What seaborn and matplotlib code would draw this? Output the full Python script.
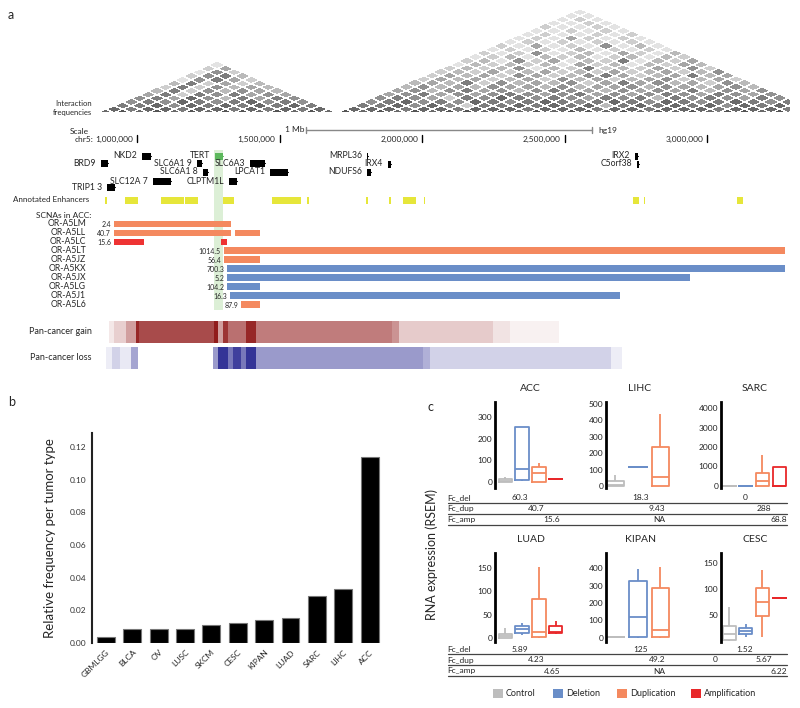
import numpy as np
import pandas as pd
import matplotlib
matplotlib.use('Agg')
import matplotlib.pyplot as plt
import seaborn as sns
from matplotlib.patches import Rectangle
from matplotlib.colors import LinearSegmentedColormap

sns.set_style('white')
plt.rcParams['font.family'] = ['Lato', 'DejaVu Sans']

# ---------------- data: panel a (positions in Mb on chr5) ----------------
# Hi-C contact levels (0-9), one string per distance from the diagonal
hic_left_span = (0.860, 1.701)
hic_left = ["78787878878787", "7677677676767", "667576767676", "56576567565",
            "5647536465", "462656454", "36253543", "2625343", "362423", "15642",
            "2563", "152", "24", "1"]
hic_right_span = (1.701, 3.405)
hic_right = ["8787878878787887878787887878", "777677677767776776777677767",
             "66757526676767367676757676", "5675657656765676576567656",
             "565426576565465636565465", "45645456545645456546545",
             "4535645356543545463545", "353435443534453543453",
             "34362534352464534253", "2434234253423452342",
             "243425423564234634", "23242342324234235", "2323513262324252",
             "132323142313243", "23152413261324", "1231323123132",
             "212512314213", "12121312121", "2141215131", "121212121",
             "12142121", "1211212", "112121", "21121", "1121", "121", "11", "1"]

coord_ticks = [1.0, 1.5, 2.0, 2.5, 3.0]
coord_labels = ['1,000,000', '1,500,000', '2,000,000', '2,500,000', '3,000,000']

gene_names = ['BRD9', 'TRIP1 3', 'NKD2', 'SLC12A 7', 'SLC6A1 9', 'SLC6A1 8', 'TERT',
              'CLPTM1L', 'SLC6A3', 'LPCAT1', 'MRPL36', 'NDUFS6', 'IRX4', 'IRX2', 'C5orf38']
gene_start = [0.874, 0.895, 1.018, 1.056, 1.210, 1.231, 1.274, 1.323, 1.396, 1.466,
              1.806, 1.806, 1.880, 2.746, 2.753]
gene_end = [0.898, 0.923, 1.049, 1.119, 1.228, 1.249, 1.302, 1.351, 1.449, 1.530,
            1.810, 1.821, 1.891, 2.757, 2.760]
gene_row = [163, 187, 156, 181, 163, 172, 156, 181, 163, 172, 156, 172, 164, 156, 164]

enh_start = [0.888, 0.958, 1.084, 1.168, 1.302, 1.473, 1.596, 1.803, 1.884, 1.933,
             2.006, 2.739, 2.778, 3.104]
enh_end = [0.895, 1.004, 1.165, 1.214, 1.340, 1.575, 1.603, 1.810, 1.891, 1.978,
           2.010, 2.760, 2.781, 3.125]

tert_band = (1.270, 1.301)

scna_sample = ['OR-A5LM', 'OR-A5LL', 'OR-A5LC', 'OR-A5LT', 'OR-A5JZ', 'OR-A5KX',
               'OR-A5JX', 'OR-A5LG', 'OR-A5J1', 'OR-A5L6']
scna_value = ['2.4', '40.7', '15.6', '1014.5', '56.4', '700.3', '5.2', '104.2', '16.3', '87.9']
seg_sample = ['OR-A5LM', 'OR-A5LL', 'OR-A5LL', 'OR-A5LC', 'OR-A5LC', 'OR-A5LT', 'OR-A5JZ',
              'OR-A5KX', 'OR-A5JX', 'OR-A5LG', 'OR-A5J1', 'OR-A5L6']
seg_start = [0.919, 0.919, 1.344, 0.919, 1.295, 1.305, 1.305, 1.316, 1.316, 1.316, 1.326, 1.365]
seg_end = [1.330, 1.330, 1.431, 1.025, 1.316, 3.272, 1.431, 3.272, 2.939, 1.431, 2.694, 1.431]
seg_type = ['dup', 'dup', 'dup', 'amp', 'amp', 'dup', 'dup', 'del', 'del', 'del', 'del', 'dup']

gain_edges = [0.902, 0.919, 0.961, 0.997, 1.007, 1.270, 1.284, 1.302, 1.319, 1.382,
              1.417, 1.894, 1.919, 2.248, 2.308, 2.480]
gain_level = [0.1, 0.2, 0.4, 0.9, 0.75, 0.95, 0.4, 0.85, 0.6, 0.9, 0.55, 0.45, 0.22, 0.12, 0.06]
loss_edges = [0.891, 0.912, 0.940, 0.979, 1.004, 1.267, 1.284, 1.319, 1.337, 1.365,
              1.382, 1.417, 2.003, 2.027, 2.662, 2.701]
loss_level = [0.08, 0.2, 0.1, 0.4, 0, 0.45, 0.9, 0.6, 0.85, 0.6, 0.9, 0.45, 0.35, 0.2, 0.08]

# ---------------- data: panel b ----------------
tumors = ['GBMLGG', 'BLCA', 'OV', 'LUSC', 'SKCM', 'CESC', 'KIPAN', 'LUAD', 'SARC', 'LIHC', 'ACC']
rel_freq = [0.0035, 0.0085, 0.0085, 0.0085, 0.011, 0.012, 0.014, 0.0155, 0.0285, 0.033, 0.114]

# ---------------- data: panel c (min, q1, median, q3, max per group) ----------------
groups = ['Control', 'Deletion', 'Duplication', 'Amplification']
expr = {
    'ACC': {'Control': [0, 1, 5, 12, 22], 'Deletion': [6, 9, 60, 255, 255],
            'Duplication': [1, 2, 40, 71, 86], 'Amplification': [14, 14, 14, 14, 14]},
    'LIHC': {'Control': [0, 2, 8, 30, 67], 'Deletion': [118, 118, 118, 118, 118],
             'Duplication': [0, 2, 57, 240, 440]},
    'SARC': {'Control': [0, 5, 10, 15, 20], 'Deletion': [0, 5, 10, 15, 20],
             'Duplication': [0, 20, 270, 650, 1600], 'Amplification': [0, 10, 20, 960, 960]},
    'LUAD': {'Control': [0, 0, 3, 8, 20], 'Deletion': [6, 11, 18, 25, 32],
             'Duplication': [0, 1, 13, 84, 152], 'Amplification': [9, 10, 13, 25, 36]},
    'KIPAN': {'Control': [0, 1, 2, 3, 4], 'Deletion': [0, 6, 117, 328, 394],
              'Duplication': [0, 2, 43, 285, 409]},
    'CESC': {'Control': [0, 3, 13, 29, 66], 'Deletion': [8, 13, 20, 26, 32],
             'Duplication': [8, 48, 75, 101, 136], 'Amplification': [83, 83, 83, 83, 83]},
}
fc_rows = ['Fc_del', 'Fc_dup', 'Fc_amp']
fc_top = [['60.3', '18.3', '0'], ['40.7', '9.43', '288'], ['15.6', 'NA', '68.8']]
fc_bottom = [['5.89', '125', '1.52'], ['4.23', '49.2', '5.67'], ['4.65', 'NA', '6.22']]

box_colors = {'Control': '#bdbdbd', 'Deletion': '#6a8ec8',
              'Duplication': '#f4895f', 'Amplification': '#e8282a'}
seg_colors = {'dup': '#f4895f', 'del': '#6a8ec8', 'amp': '#ee3333'}

W, H = 800, 708
fig = plt.figure(figsize=(W / 100, H / 100), dpi=100)


def px_axes(x0, y0, x1, y1):
    return fig.add_axes([x0 / W, 1 - y1 / H, (x1 - x0) / W, (y1 - y0) / H])


# ================= panel a =================
MB_PX = 285.2
axa = px_axes(0, 0, 800, 385)
X0 = 1 - 137 / MB_PX
axa.set_xlim(X0, X0 + 800 / MB_PX)
axa.set_ylim(385, 0)
axa.axis('off')


def mb(p):
    return (p - 137) / MB_PX + 1


hic_cmap = LinearSegmentedColormap.from_list('hic', ['#f7f7f7', '#4a4a4a'])


def draw_hic(span, rows, clip=None):
    n = len(rows)
    M = np.full((n, n), np.nan)
    for d, s in enumerate(rows):
        for i, ch in enumerate(s[:n - d]):
            M[i, i + d] = int(ch)
    e = np.linspace(span[0], span[1], n + 1)
    A, B = np.meshgrid(e, e, indexing='ij')
    X = (A + B) / 2
    Y = 113 - 61.3 * np.clip(B - A, 0, None)
    mesh = axa.pcolormesh(X, Y, np.ma.masked_invalid(M), cmap=hic_cmap, vmin=0, vmax=8.5,
                          edgecolors='white', linewidth=0.15)
    if clip is not None:
        mesh.set_clip_path(Rectangle((X0, 0), clip - X0, 120, transform=axa.transData))


draw_hic(hic_left_span, hic_left)
draw_hic(hic_right_span, hic_right, clip=3.290)
axa.text(mb(92), 103, 'Interaction', ha='right', va='center', fontsize=5.5)
axa.text(mb(92), 113, 'frequencies', ha='right', va='center', fontsize=5.5)

# scale / coordinates
axa.text(mb(89), 131, 'Scale', ha='right', va='center', fontsize=6)
axa.text(mb(93), 139.5, 'chr5:', ha='right', va='center', fontsize=6)
for t, lab in zip(coord_ticks, coord_labels):
    axa.plot([t, t], [135, 142.5], color='black', lw=1)
    axa.text(t - 4 / MB_PX, 139.5, lab, ha='right', va='center', fontsize=6)
axa.plot([mb(306), mb(592)], [130, 130], color='#888888', lw=1)
axa.plot([mb(306), mb(306)], [127, 133], color='#888888', lw=1)
axa.plot([mb(592), mb(592)], [127, 133], color='#888888', lw=1)
axa.text(mb(304), 130, '1 Mb', ha='right', va='center', fontsize=6)
axa.text(mb(598), 131, 'hg19', ha='left', va='center', fontsize=6)

# TERT highlight band
axa.add_patch(Rectangle((tert_band[0], 150), tert_band[1] - tert_band[0], 160,
                        color='#dcefd6', zorder=0, lw=0))

# genes
for name, s, e, y in zip(gene_names, gene_start, gene_end, gene_row):
    col = '#5cb85c' if name == 'TERT' else 'black'
    axa.plot([s, e], [y, y], color=col, lw=0.8)
    axa.add_patch(Rectangle((s, y - 3.5), e - s, 7, color=col, lw=0))
    axa.text(s - 5 / MB_PX, y, name, ha='right', va='center', fontsize=6.2)

# enhancers
axa.text(mb(89), 200, 'Annotated Enhancers', ha='right', va='center', fontsize=5.8)
for s, e in zip(enh_start, enh_end):
    axa.add_patch(Rectangle((s, 196.5), max(e - s, 0.004), 7, color='#e6e63a', lw=0))

# SCNAs in ACC
axa.text(mb(91), 216, 'SCNAs in ACC:', ha='right', va='center', fontsize=6)
row_y = {s: 224 + 8.95 * i for i, s in enumerate(scna_sample)}
first_start = {}
for smp, s, e, t in zip(seg_sample, seg_start, seg_end, seg_type):
    axa.barh(row_y[smp], e - s, left=s, height=6.8, color=seg_colors[t], lw=0)
    first_start[smp] = min(first_start.get(smp, 9), s)
for smp, val in zip(scna_sample, scna_value):
    axa.text(mb(86), row_y[smp], smp, ha='right', va='center', fontsize=6.2)
    axa.text(first_start[smp] - 3 / MB_PX, row_y[smp] + 0.5, val, ha='right',
             va='center', fontsize=5)

# pan-cancer gain / loss
gain_cmap = LinearSegmentedColormap.from_list('gain', ['#ffffff', '#8c1010'])
loss_cmap = LinearSegmentedColormap.from_list('loss', ['#ffffff', '#1e1e8c'])
axa.pcolormesh(gain_edges, [321, 343], np.ma.masked_equal(np.array([gain_level]), 0),
               cmap=gain_cmap, vmin=0, vmax=1)
axa.pcolormesh(loss_edges, [347, 369], np.ma.masked_equal(np.array([loss_level]), 0),
               cmap=loss_cmap, vmin=0, vmax=1)
axa.text(mb(92), 332, 'Pan-cancer gain', ha='right', va='center', fontsize=6.5)
axa.text(mb(92), 358, 'Pan-cancer loss', ha='right', va='center', fontsize=6.5)

# ================= panel b =================
axb = px_axes(92, 433, 388, 643)
df_b = pd.DataFrame({'tumor': tumors, 'freq': rel_freq})
sns.barplot(data=df_b, x='tumor', y='freq', color='black', width=0.68,
            edgecolor='#777777', linewidth=0.8, ax=axb)
axb.set_xlim(-0.53, 10.7)
axb.set_ylim(0, 0.1287)
axb.set_yticks(np.arange(0, 0.13, 0.02))
axb.set_yticklabels([f'{v:.2f}' for v in np.arange(0, 0.13, 0.02)], fontsize=6, color='#333333')
axb.set_xticks(range(len(tumors)))
axb.set_xticklabels(tumors, rotation=45, ha='right', rotation_mode='anchor', fontsize=6)
axb.tick_params(length=0, pad=4)
axb.set_xlabel('')
axb.set_ylabel('Relative frequency per tumor type', fontsize=9.5, labelpad=10)
sns.despine(ax=axb, bottom=True)
axb.spines['left'].set_linewidth(1.5)
axb.spines['left'].set_color('#222222')

# ================= panel c =================
c_layout = {
    'ACC': ((495, 402, 566, 488), (-0.6, 3.6), (-28, 369), [0, 100, 200, 300]),
    'LIHC': ((606, 402, 674, 488), (-0.4, 2.6), (-12, 512), [0, 100, 200, 300, 400, 500]),
    'SARC': ((721, 402, 789, 488), (-0.48, 3.6), (-103, 4308), [0, 1000, 2000, 3000, 4000]),
    'LUAD': ((495, 553, 566, 642), (-0.6, 3.6), (-9, 182), [0, 50, 100, 150]),
    'KIPAN': ((606, 553, 674, 642), (-0.4, 2.6), (-25, 488), [0, 100, 200, 300, 400]),
    'CESC': ((721, 553, 789, 642), (-0.48, 3.6), (-1.5, 168.6), [50, 100, 150]),
}
for tumor, (box, xl, yl, yt) in c_layout.items():
    ax = px_axes(*box)
    rows = [(g, v) for g in groups if g in expr[tumor] for v in expr[tumor][g]]
    sub = pd.DataFrame(rows, columns=['group', 'value'])
    sns.boxplot(data=sub, x='group', y='value', hue='group', order=groups, hue_order=groups,
                palette=box_colors, fill=False, width=0.78, whis=(0, 100), showfliers=False,
                showcaps=False, linewidth=1.3, legend=False, ax=ax)
    ax.set_xlim(*xl)
    ax.set_ylim(*yl)
    ax.set_yticks(yt)
    ax.set_yticklabels([str(v) for v in yt], fontsize=6, color='#222222')
    ax.set_xticks([])
    ax.tick_params(length=0, pad=2)
    ax.set_xlabel('')
    ax.set_ylabel('')
    ax.set_title(tumor, fontsize=7.5, pad=8)
    sns.despine(ax=ax, bottom=True)
    ax.spines['left'].set_linewidth(2)
    ax.spines['left'].set_color('black')

# ================= overlay: labels, tables, legend =================
ov = fig.add_axes([0, 0, 1, 1])
ov.set_xlim(0, W)
ov.set_ylim(H, 0)
ov.axis('off')
ov.patch.set_alpha(0)
ov.text(8, 15, 'a', fontsize=9, va='center')
ov.text(8, 402, 'b', fontsize=9, va='center')
ov.text(428, 407, 'c', fontsize=9, va='center')
ov.text(432, 555, 'RNA expression (RSEM)', rotation=90, ha='center', va='center', fontsize=9)

val_x = [[520, 641, 745], [536, 657, 764], [552, 659, 779]]
for top, values, extra in [(497.5, fc_top, False), (649, fc_bottom, True)]:
    for r, (lab, vals) in enumerate(zip(fc_rows, values)):
        ty = top + r * 11
        ov.text(447, ty, lab, ha='left', va='center', fontsize=6)
        for x, v in zip(val_x[r], vals):
            ov.text(x, ty, v, ha='center', va='center', fontsize=6)
        ov.plot([448, 787], [ty + 5, ty + 5], color='#444444', lw=0.9)
    if extra:
        ov.text(715, top + 11, '0', ha='center', va='center', fontsize=6)

leg_x = [493, 553, 617, 691]
for x, g in zip(leg_x, groups):
    ov.add_patch(Rectangle((x, 689), 10, 9, color=box_colors[g], lw=0))
    ov.text(x + 13, 693.5, g, ha='left', va='center', fontsize=6.5)

fig.savefig('out.png', dpi=100)
